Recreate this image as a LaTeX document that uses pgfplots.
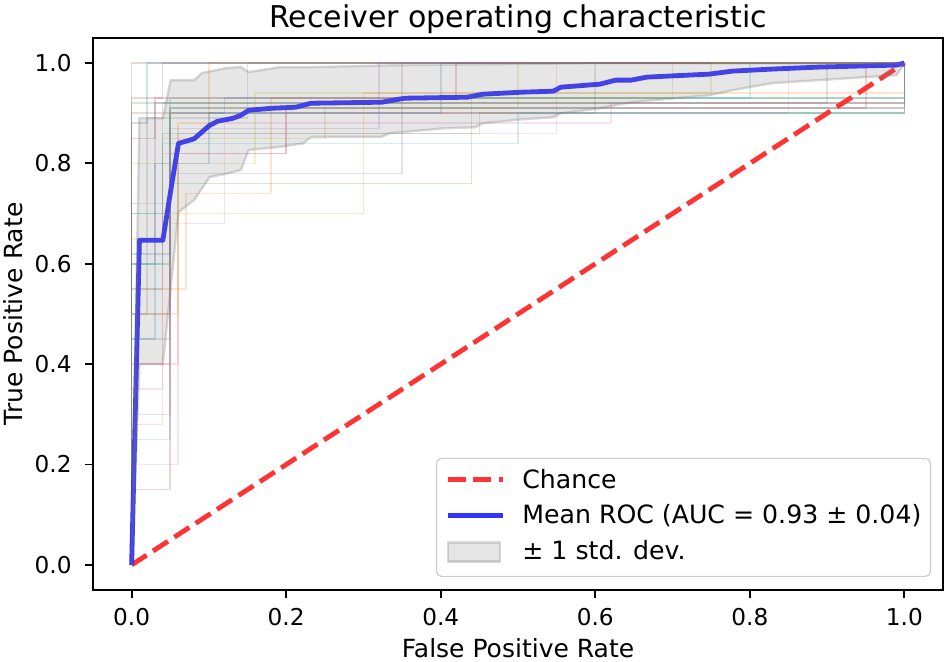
\documentclass[border=0pt]{standalone}
\usepackage{fontspec}
\setmainfont{DejaVu Sans}
\usepackage{pgfplots}
\pgfplotsset{compat=1.18}
\definecolor{tabblue}{HTML}{1F77B4}
\definecolor{taborange}{HTML}{FF7F0E}
\definecolor{tabgreen}{HTML}{2CA02C}
\definecolor{tabred}{HTML}{D62728}
\definecolor{tabpurple}{HTML}{9467BD}
\definecolor{tabbrown}{HTML}{8C564B}
\definecolor{tabpink}{HTML}{E377C2}
\definecolor{tabgray}{HTML}{7F7F7F}
\definecolor{tabolive}{HTML}{BCBD22}
\definecolor{tabcyan}{HTML}{17BECF}
\definecolor{chancered}{rgb}{1,0.2,0.2}
\definecolor{meanblue}{rgb}{0.2,0.2,1}
\definecolor{legedge}{rgb}{0.8,0.8,0.8}
\definecolor{bandgray}{rgb}{0.5,0.5,0.5}
\pgfplotsset{
  legline/.style={legend image code/.code={\draw[##1] (0pt,4.4pt) -- (27.5pt,4.4pt);}},
  legrect/.style={legend image code/.code={\draw[##1, sharp corners] (0pt,-1pt) rectangle (26pt,8.5pt);}},
  fold/.style={line width=0.8pt, opacity=0.22, forget plot},
}
\begin{document}
\begin{tikzpicture}
\begin{axis}[
  at={(0pt,0pt)}, anchor=south west,
  scale only axis, width=425pt, height=276pt,
  xmin=-0.05, xmax=1.05, ymin=-0.05, ymax=1.05,
  xtick={0,0.2,0.4,0.6,0.8,1}, xticklabels={0.0,0.2,0.4,0.6,0.8,1.0},
  ytick={0,0.2,0.4,0.6,0.8,1}, yticklabels={0.0,0.2,0.4,0.6,0.8,1.0},
  tick align=outside, tick pos=left,
  major tick length=4.2pt,
  every tick/.style={black, line width=0.96pt},
  axis line style={line width=0.96pt},
  font=\fontsize{12.5}{15}\selectfont,
  ticklabel style={font=\fontsize{11.6}{14}\selectfont},
  xticklabel style={anchor=north, inner sep=0pt, yshift=-4.8pt},
  yticklabel style={anchor=east, inner sep=0pt, xshift=-6.3pt},
  title={Receiver operating characteristic},
  title style={at={(axis description cs:0.5,0.9975)}, anchor=base, inner sep=0pt, font=\fontsize{15}{18}\selectfont},
  xlabel={False Positive Rate},
  xlabel style={at={(axis description cs:0.5,-0.1214)}, anchor=base, inner sep=0pt},
  ylabel={True Positive Rate},
  ylabel style={at={(axis description cs:-0.0835,0.5)}, anchor=base, inner sep=0pt},
  legend style={at={(axis description cs:0.9859,0.02355)}, anchor=south east,
    draw=legedge, line width=0.6pt, rounded corners=2.5pt, fill=white, fill opacity=0.8, text opacity=1, draw opacity=1,
    font=\fontsize{12.6}{15}\selectfont, inner xsep=4.5pt, inner ysep=5.4pt, row sep=5.2pt,
    cells={anchor=base west},
    nodes={inner sep=0pt, text height=9.6pt, text depth=3pt},
    /tikz/every odd column/.style={column sep=8.5pt}},
]
% individual folds
\addplot[fold, tabblue] coordinates {(0,0)(0,0.62)(0.05,0.62)(0.05,0.9)(0.12,0.9)(0.12,0.93)(1,0.93)(1,1)};
\addplot[fold, taborange] coordinates {(0,0)(0,0.4)(0.06,0.4)(0.06,0.88)(0.1,0.88)(0.1,1)(1,1)};
\addplot[fold, tabgreen] coordinates {(0,0)(0,0.92)(1,0.92)(1,1)};
\addplot[fold, tabred] coordinates {(0,0)(0,0.5)(0.05,0.5)(0.05,0.82)(0.2,0.82)(0.2,0.91)(1,0.91)(1,1)};
\addplot[fold, tabpurple] coordinates {(0,0)(0,0.3)(0.05,0.3)(0.05,0.78)(0.35,0.78)(0.35,1)(1,1)};
\addplot[fold, tabbrown] coordinates {(0,0)(0,1)(1,1)};
\addplot[fold, tabpink] coordinates {(0,0)(0,0.2)(0.06,0.2)(0.06,0.86)(0.55,0.86)(0.55,1)(1,1)};
\addplot[fold, tabgray] coordinates {(0,0)(0,0.45)(0.05,0.45)(0.05,0.9)(0.6,0.9)(0.6,1)(1,1)};
\addplot[fold, tabolive] coordinates {(0,0)(0,0.65)(0.04,0.65)(0.04,0.85)(0.25,0.85)(0.25,0.92)(1,0.92)(1,1)};
\addplot[fold, tabcyan] coordinates {(0,0)(0,0.25)(0.05,0.25)(0.05,0.93)(0.8,0.93)(0.8,1)(1,1)};
\addplot[fold, tabblue] coordinates {(0,0)(0,0.88)(0.02,0.88)(0.02,1)(1,1)};
\addplot[fold, taborange] coordinates {(0,0)(0,0.55)(0.07,0.55)(0.07,0.74)(0.18,0.74)(0.18,0.93)(0.7,0.93)(0.7,1)(1,1)};
\addplot[fold, tabgreen] coordinates {(0,0)(0,0.7)(0.04,0.7)(0.04,0.86)(0.45,0.86)(0.45,0.9)(1,0.9)(1,1)};
\addplot[fold, tabred] coordinates {(0,0)(0,0.15)(0.05,0.15)(0.05,0.91)(0.95,0.91)(0.95,1)(1,1)};
\addplot[fold, tabpurple] coordinates {(0,0)(0,0.6)(0.03,0.6)(0.03,0.92)(1,0.92)(1,1)};
\addplot[fold, tabbrown] coordinates {(0,0)(0,0.9)(1,0.9)(1,1)};
\addplot[fold, tabpink] coordinates {(0,0)(0,0.35)(0.04,0.35)(0.04,0.82)(0.2,0.82)(0.2,0.9)(0.85,0.9)(0.85,1)(1,1)};
\addplot[fold, tabgray] coordinates {(0,0)(0,0.5)(0.02,0.5)(0.02,0.89)(0.15,0.89)(0.15,1)(1,1)};
\addplot[fold, tabolive] coordinates {(0,0)(0,0.8)(0.05,0.8)(0.05,0.91)(0.5,0.91)(0.5,1)(1,1)};
\addplot[fold, tabcyan] coordinates {(0,0)(0,0.7)(0.05,0.7)(0.05,0.91)(1,0.91)(1,1)};
\addplot[fold, tabblue] coordinates {(0,0)(0,0.45)(0.03,0.45)(0.03,0.8)(0.1,0.8)(0.1,0.9)(0.4,0.9)(0.4,1)(1,1)};
\addplot[fold, taborange] coordinates {(0,0)(0,0.28)(0.04,0.28)(0.04,0.7)(0.3,0.7)(0.3,0.94)(1,0.94)(1,1)};
\addplot[fold, tabgreen] coordinates {(0,0)(0,0.6)(0.05,0.6)(0.05,0.76)(0.44,0.76)(0.44,0.93)(1,0.93)(1,1)};
\addplot[fold, tabred] coordinates {(0,0)(0,0.85)(0.03,0.85)(0.03,0.93)(0.42,0.93)(0.42,1)(1,1)};
\addplot[fold, tabpurple] coordinates {(0,0)(0,0.72)(0.05,0.72)(0.05,0.87)(0.32,0.87)(0.32,1)(1,1)};
\addplot[fold, tabbrown] coordinates {(0,0)(0,0.93)(0.04,0.93)(0.04,1)(1,1)};
\addplot[fold, tabpink] coordinates {(0,0)(0,0.4)(0.05,0.4)(0.05,0.68)(0.12,0.68)(0.12,0.88)(0.62,0.88)(0.62,0.92)(1,0.92)(1,1)};
\addplot[fold, tabgray] coordinates {(0,0)(0,0.55)(0.04,0.55)(0.04,0.92)(0.9,0.92)(0.9,1)(1,1)};
\addplot[fold, tabolive] coordinates {(0,0)(0,0.5)(0.06,0.5)(0.06,0.8)(0.16,0.8)(0.16,0.94)(0.75,0.94)(0.75,1)(1,1)};
\addplot[fold, tabcyan] coordinates {(0,0)(0,0.6)(0.04,0.6)(0.04,0.84)(0.5,0.84)(0.5,0.9)(1,0.9)(1,1)};
% chance
\addplot[chancered, line width=2.4pt, dash pattern=on 8.9pt off 3.84pt, legline]
  coordinates {(0,0)(1,1)};
\addlegendentry{Chance}
% mean ROC
\addplot[meanblue, line width=2.4pt, line join=round, legline]
  coordinates {(0,0)(0.0101,0.647)(0.0404,0.647)(0.0505,0.745)(0.0606,0.84)(0.0808,0.849)
  (0.101,0.876)(0.1111,0.884)(0.1313,0.89)(0.1414,0.896)(0.1515,0.906)(0.1818,0.910)
  (0.2121,0.912)(0.2323,0.920)(0.3232,0.922)(0.3535,0.930)(0.4343,0.932)(0.4545,0.938)
  (0.5051,0.942)(0.5455,0.944)(0.5556,0.952)(0.6061,0.958)(0.6263,0.966)(0.6465,0.966)
  (0.6667,0.972)(0.7475,0.978)(0.7778,0.984)(0.8283,0.988)(0.8889,0.992)(0.9899,0.996)(1,1)};
\addlegendentry{Mean ROC (AUC = 0.93 ± 0.04)}
% std band
\addplot[fill=bandgray, fill opacity=0.2, draw=bandgray, draw opacity=0.3, line width=1.2pt, legrect]
  coordinates {(0,0)(0.0101,0.89)(0.0404,0.89)(0.0505,0.966)(0.0808,0.966)(0.0909,0.98)
  (0.1212,0.99)(0.1414,0.992)(0.1515,0.982)(0.1919,0.992)(0.2323,0.992)(0.3535,0.996)
  (0.6061,1)(1,1)
  (0.9899,0.976)(0.8889,0.966)(0.8283,0.96)(0.7778,0.946)(0.7475,0.936)(0.6465,0.922)
  (0.6263,0.916)(0.6061,0.91)(0.5556,0.90)(0.5455,0.892)(0.5051,0.888)(0.4545,0.88)
  (0.4444,0.872)(0.404,0.87)(0.3333,0.86)(0.3232,0.853)(0.2323,0.853)(0.2222,0.84)
  (0.1919,0.833)(0.1515,0.827)(0.1414,0.787)(0.1212,0.779)(0.101,0.773)(0.0808,0.727)
  (0.0606,0.703)(0.0404,0.40)(0.0101,0.40)(0,0)} -- cycle;
\addlegendentry{± 1 std. dev.}
\end{axis}
\pgfresetboundingbox
\useasboundingbox (-46.5pt,-36pt) rectangle (425.5pt,295pt);
\end{tikzpicture}
\end{document}
